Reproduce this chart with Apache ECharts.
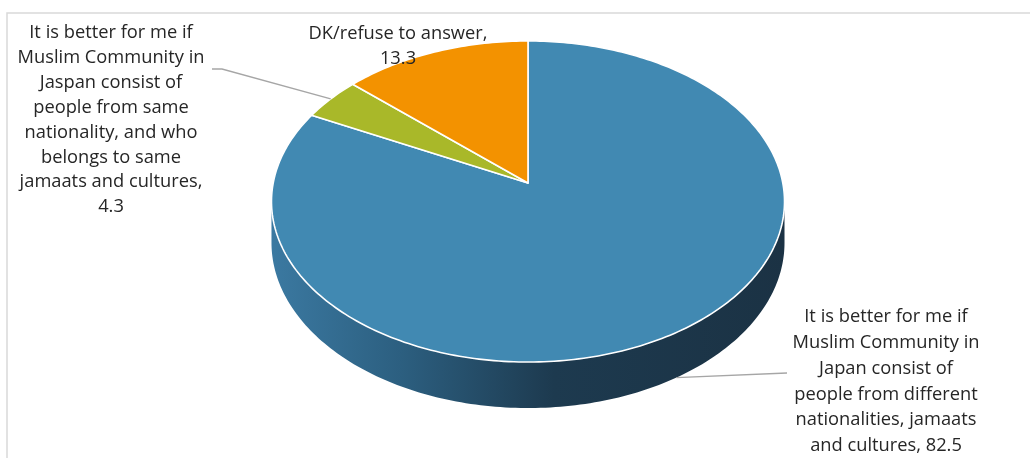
<!DOCTYPE html>
<html>
<head>
<meta charset="utf-8">
<script src="https://cdn.jsdelivr.net/npm/echarts@6/dist/echarts.min.js"></script>
<style>
html,body{margin:0;padding:0;background:#fff;}
#chart{width:1030px;height:458px;}
</style>
</head>
<body>
<div id="chart"></div>
<script>
// ---- data ----
const categories = [
  'It is better for me if Muslim Community in Japan consist of people from different nationalities, jamaats and cultures',
  'It is better for me if Muslim Community in Jaspan consist of people from same nationality, and who belongs to same jamaats and cultures',
  'DK/refuse to answer'
];
const values = [82.5, 4.3, 13.3];
const labelLines = [
  ['It is better for me if', 'Muslim Community in', 'Japan consist of', 'people from different', 'nationalities, jamaats', 'and cultures, {v}'],
  ['It is better for me if', 'Muslim Community in', 'Jaspan consist of', 'people from same', 'nationality, and who', 'belongs to same', 'jamaats and cultures,', '{v}'],
  ['DK/refuse to answer,', '{v}']
];
const colors = ['#4189B2', '#A9B829', '#F39200'];

// ---- geometry (pixels) ----
const W = 1030, H = 458;
const CX = 528, CY = 183;     // apex of the pie on screen
const RX = 254.8, RY = 158.4; // radii of tilted disk
const P = 0.1153;             // perspective factor
const DEPTH = 0.257;          // thickness in y units

const xMin = -CX / RX, xMax = (W - CX) / RX;
const yMax = CY / RY, yMin = -(H - CY) / RY;

const total = values.reduce((a, b) => a + b, 0);
const startAng = [], endAng = [];
let acc = 0;
values.forEach((v, i) => { startAng.push(acc / total * 360); acc += v; endAng.push(acc / total * 360); });

const rad = d => d * Math.PI / 180;
function proj(deg, depth) {
  const t = rad(deg);
  const s = 1 / (1 + P * Math.cos(t));
  return [Math.sin(t) * s, Math.cos(t) * s - (depth || 0) * s];
}
function arcPts(api, a0, a1, depth) {
  const pts = [];
  const n = Math.max(2, Math.ceil(Math.abs(a1 - a0)));
  for (let k = 0; k <= n; k++) pts.push(api.coord(proj(a0 + (a1 - a0) * k / n, depth)));
  return pts;
}
const visA = Math.acos(-P) * 180 / Math.PI, visB = 360 - visA;

const labelBoxes = [
  { x: 886, y: 381.5, lh: 25.7 },
  { x: 111, y: 120, lh: 24.9 },
  { x: 398, y: 46, lh: 25 }
];

function renderSide(params, api) {
  const i = params.dataIndex;
  const a0 = Math.max(startAng[i], visA), a1 = Math.min(endAng[i], visB);
  if (a1 <= a0) return null;
  const top = arcPts(api, a0, a1, 0);
  const bot = arcPts(api, a0, a1, DEPTH).reverse();
  return {
    type: 'polygon',
    shape: { points: top.concat(bot) },
    style: {
      fill: new echarts.graphic.LinearGradient(272, 0, 785, 0, [
        { offset: 0, color: '#3B79A1' },
        { offset: 0.25, color: '#2C5F80' },
        { offset: 0.55, color: '#1D3A4F' },
        { offset: 1, color: '#1B3244' }
      ], true),
      stroke: null
    }
  };
}

function renderTop(params, api) {
  const i = params.dataIndex;
  const pts = [api.coord([0, 0])].concat(arcPts(api, startAng[i], endAng[i], 0));
  return {
    type: 'polygon',
    shape: { points: pts },
    style: { fill: colors[i], stroke: '#ffffff', lineWidth: 1.6, lineJoin: 'round' }
  };
}

function renderLabel(params, api) {
  const i = params.dataIndex;
  const v = api.value(1);
  const txt = labelLines[i].map(l => l.replace('{v}', v)).join('\n');
  const b = labelBoxes[i];
  const children = [{
    type: 'text',
    style: {
      text: txt, x: b.x, y: b.y, align: 'center', verticalAlign: 'middle',
      fill: '#262626', font: '18.3px "Open Sans"', lineHeight: b.lh
    }
  }];
  const mid = (startAng[i] + endAng[i]) / 2;
  if (i === 1) {
    const e = api.coord(proj(mid, 0));
    children.push({ type: 'polyline', shape: { points: [[212, 69], [222, 69], e] }, style: { stroke: '#A6A6A6', lineWidth: 1.3, fill: null } });
  } else if (i === 0) {
    const e = api.coord(proj(mid, DEPTH));
    children.push({ type: 'polyline', shape: { points: [e, [787, 373]] }, style: { stroke: '#A6A6A6', lineWidth: 1.3, fill: null } });
  }
  return { type: 'group', children };
}

const seriesData = values.map((v, i) => ({ name: categories[i], value: [i, v] }));

const chart = echarts.init(document.getElementById('chart'), null, { renderer: 'canvas' });
chart.setOption({
  animation: false,
  tooltip: { show: false },
  grid: { left: 0, right: 0, top: 0, bottom: 0 },
  xAxis: { type: 'value', min: xMin, max: xMax, show: false },
  yAxis: { type: 'value', min: yMin, max: yMax, show: false },
  graphic: [{
    type: 'polyline', silent: true,
    shape: { points: [[7, 458], [7, 13], [1030, 13]] },
    style: { stroke: '#D9D9D9', lineWidth: 1.5, fill: null }
  }],
  series: [
    { type: 'custom', renderItem: renderSide, data: seriesData, z: 1, silent: true },
    { type: 'custom', renderItem: renderTop, data: seriesData, z: 2, silent: true },
    { type: 'custom', renderItem: renderLabel, data: seriesData, z: 3, silent: true }
  ]
});
</script>
</body>
</html>
